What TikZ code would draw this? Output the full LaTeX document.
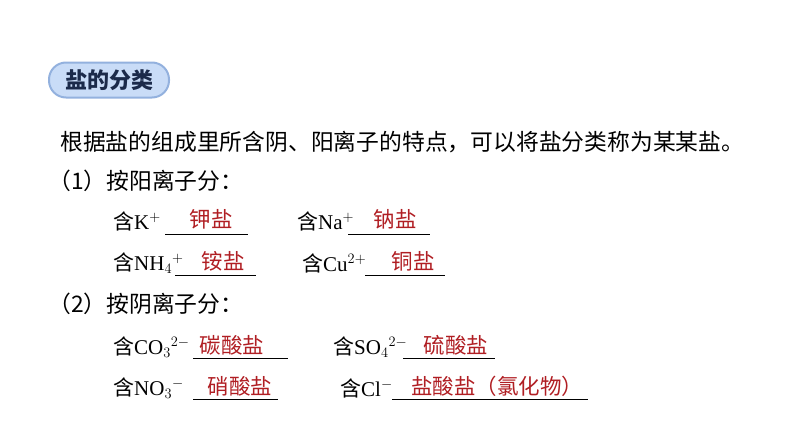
\documentclass[tikz,border=0pt]{standalone}
\usepackage{fontspec}
\setmainfont{Liberation Serif}
\newfontfamily\cjk{Noto Sans CJK SC}
\definecolor{ansred}{HTML}{B01E23}
\definecolor{pillfill}{HTML}{C9DCF7}
\definecolor{pilledge}{HTML}{93B1DE}
\definecolor{navy}{HTML}{1B2A4A}
\begin{document}
\begin{tikzpicture}[x=1pt,y=-1pt,
  body/.style={anchor=west,inner sep=0pt,font=\fontsize{22.8}{23}\selectfont\cjk},
  row/.style={anchor=west,inner sep=0pt,font=\fontsize{21}{21}\selectfont},
  ans/.style={inner sep=0pt,text=ansred,font=\fontsize{21.5}{22}\selectfont\cjk},
  uline/.style={line width=0.8pt}]
\useasboundingbox (0,0) rectangle (794,447);
\node[draw=pilledge,line width=2pt,fill=pillfill,rounded corners=17pt,minimum width=120pt,minimum height=35pt,inner sep=0pt,text=navy,font=\fontsize{22}{22}\selectfont\cjk\bfseries] (pill) at (109,80) {盐的分类};
\node[body] (intro) at (60,142) {根据盐的组成里所含阴、阳离子的特点，可以将盐分类称为某某盐。};
\node[body] (p1) at (48,181) {（1）按阳离子分：};
\node[body] (p2) at (48,304) {（2）按阴离子分：};
% cation rows
\node[row] (k) at (113,221) {{\cjk 含}K$^+$};
\draw[uline] (165,234) -- (248,234);
\node[ans] (ka) at (211,219) {钾盐};
\node[row] (na) at (297,221) {{\cjk 含}Na$^+$};
\draw[uline] (348,234) -- (430,234);
\node[ans] (naa) at (395,219) {钠盐};
\node[row] (nh) at (113,263) {{\cjk 含}NH$_4$$^+$};
\draw[uline] (175,275) -- (256,275);
\node[ans] (nha) at (223,261) {铵盐};
\node[row] (cu) at (302,263) {{\cjk 含}Cu$^{2+}$};
\draw[uline] (365,275) -- (445,275);
\node[ans] (cua) at (413,261) {铜盐};
% anion rows
\node[row] (co) at (113,347) {{\cjk 含}CO$_3$$^{2-}$};
\draw[uline] (193,358) -- (288,358);
\node[ans] (coa) at (232,345) {碳酸盐};
\node[row] (so) at (333,347) {{\cjk 含}SO$_4$$^{2-}$};
\draw[uline] (403,358) -- (495,358);
\node[ans] (soa) at (456,345) {硫酸盐};
\node[row] (no) at (113,388) {{\cjk 含}NO$_3$$^-$};
\draw[uline] (193,399) -- (278,399);
\node[ans] (noa) at (240,386) {硝酸盐};
\node[row] (cl) at (340,388) {{\cjk 含}Cl$^-$};
\draw[uline] (392,399) -- (588,399);
\node[ans] (cla) at (497,386) {盐酸盐（氯化物）};
\end{tikzpicture}
\end{document}
